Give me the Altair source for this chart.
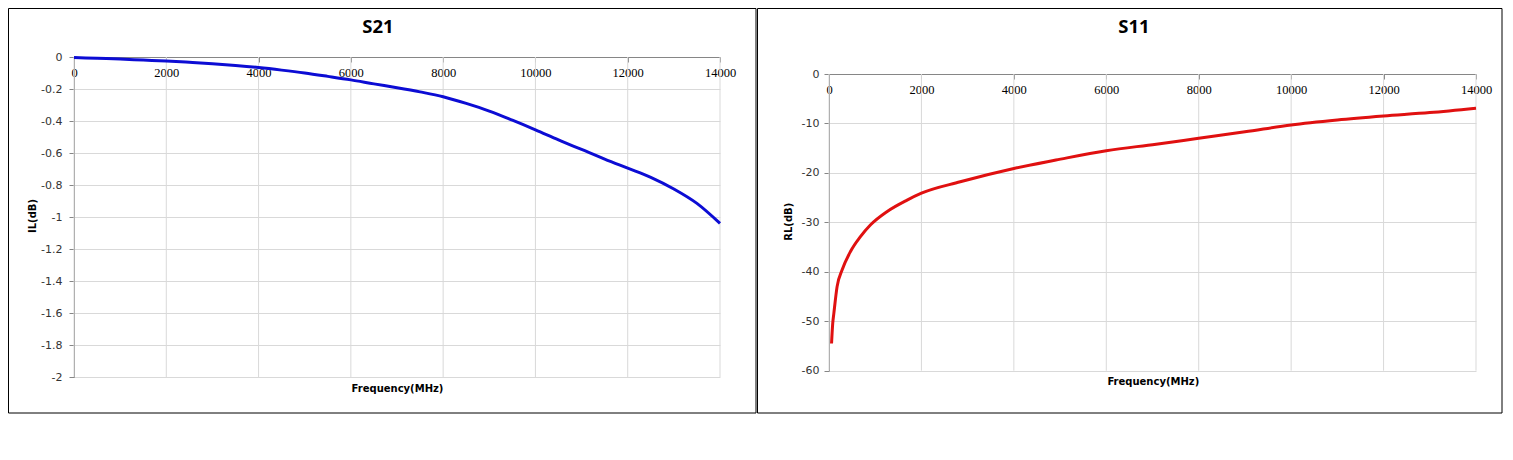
import altair as alt
import pandas as pd

# ---- data ----
s21_freq = [0, 500, 1000, 1500, 2000, 2500, 3000, 3500, 4000, 4500, 5000, 5500, 6000,
            6500, 7000, 7500, 8000, 8500, 9000, 9500, 10000, 10500, 11000, 11500,
            12000, 12500, 13000, 13500, 14000]
s21_il = [-0.003, -0.008, -0.013, -0.019, -0.025, -0.033, -0.042, -0.053, -0.066, -0.082,
          -0.100, -0.121, -0.143, -0.168, -0.192, -0.218, -0.248, -0.290, -0.338, -0.395,
          -0.455, -0.518, -0.578, -0.638, -0.695, -0.752, -0.825, -0.915, -1.04]

s11_freq = [55, 80, 105, 175, 285, 465, 680, 900, 1260, 1690, 2000, 2840, 4000, 4910,
            6000, 7080, 8000, 9000, 10000, 11000, 12000, 13000, 14000]
s11_rl = [-54.5, -50.5, -48.4, -43.0, -39.6, -35.9, -32.9, -30.5, -27.8, -25.5, -24.1,
          -21.8, -19.1, -17.4, -15.5, -14.2, -13.0, -11.7, -10.3, -9.3, -8.5, -7.8, -6.9]

x_ticks = [0, 2000, 4000, 6000, 8000, 10000, 12000, 14000]
s21_ticks = [0, -0.2, -0.4, -0.6, -0.8, -1, -1.2, -1.4, -1.6, -1.8, -2]
s11_ticks = [0, -10, -20, -30, -40, -50, -60]

GRID = "#d9d9d9"
AXIS = "#868686"


def x_axis(off):
    return alt.Axis(orient="bottom", offset=off, values=x_ticks, grid=False,
                    domainColor=AXIS, tickColor=AXIS, tickSize=5,
                    labelPadding=10, labelBaseline="middle", labelFont="Liberation Serif",
                    labelFontSize=12.5, labelColor="black", labelFlush=False,
                    labelOverlap=False, labelExpr="'' + datum.value", title=None)


def y_axis(vals, pad):
    return alt.Axis(values=vals, grid=True, gridColor=GRID, domainColor=AXIS,
                    tickColor=AXIS, tickSize=5, labelPadding=pad, labelFont="DejaVu Sans",
                    labelFontSize=11, labelColor="#333333", labelOverlap=False,
                    labelExpr="'' + datum.value", title=None)


def text(s, x, y, size, font, angle=0):
    return alt.Chart(pd.DataFrame({"t": [s]})).mark_text(
        font=font, fontSize=size, fontWeight="bold", align="center",
        baseline="middle", angle=angle, color="black"
    ).encode(text="t:N", x=alt.value(x), y=alt.value(y))


def border(x1, x2, y1, y2):
    return alt.Chart(pd.DataFrame({"b": [0]})).mark_rect(
        fillOpacity=0, stroke="black", strokeWidth=1
    ).encode(x=alt.value(x1), x2=alt.value(x2), y=alt.value(y1), y2=alt.value(y2))


def vgrid(y_top, y_bottom):
    return alt.Chart(pd.DataFrame({"g": x_ticks})).mark_rule(
        color=GRID, strokeWidth=1
    ).encode(x=alt.X("g:Q"), y=alt.value(y_top), y2=alt.value(y_bottom))


df21 = pd.DataFrame({"f": s21_freq, "v": s21_il})
df11 = pd.DataFrame({"f": s11_freq, "v": s11_rl})

xscale = alt.Scale(domain=[0, 14000], nice=False)

line21 = alt.Chart(df21).mark_line(color="#0c0cd4", strokeWidth=3, interpolate="monotone").encode(
    x=alt.X("f:Q", scale=xscale, axis=x_axis(-320)),
    y=alt.Y("v:Q", scale=alt.Scale(domain=[-2, 0], nice=False, zero=False),
            axis=y_axis(s21_ticks, 7)),
)

left = alt.layer(
    border(-65.5, 682, -48.5, 356),
    vgrid(0, 320),
    line21,
    text("S21", 304, -30, 18.5, "Open Sans"),
    text("Frequency(MHz)", 323.5, 332.3, 10, "DejaVu Sans"),
    text("IL(dB)", -41.5, 159, 10, "DejaVu Sans", angle=270),
).properties(width=646, height=320)

line11 = alt.Chart(df11).mark_line(color="#e01010", strokeWidth=3, interpolate="monotone").encode(
    x=alt.X("f:Q", scale=xscale, axis=x_axis(-297)),
    y=alt.Y("v:Q", scale=alt.Scale(domain=[-60, 0], range=[313.7, 17], nice=False, zero=False),
            axis=y_axis(s11_ticks, 5)),
)

right = alt.layer(
    border(-71.5, 673, -48.5, 356),
    vgrid(17, 313.7),
    line11,
    text("S11", 305, -30, 18.5, "Open Sans"),
    text("Frequency(MHz)", 324.3, 325.3, 10, "DejaVu Sans"),
    text("RL(dB)", -40, 164.7, 10, "DejaVu Sans", angle=270),
).properties(width=647, height=314)

chart = alt.hconcat(left, right, spacing=0).properties(
    padding=0, background="white"
).configure_view(strokeWidth=0)

chart.save("out.html", embed_options={"renderer": "svg", "actions": False})
